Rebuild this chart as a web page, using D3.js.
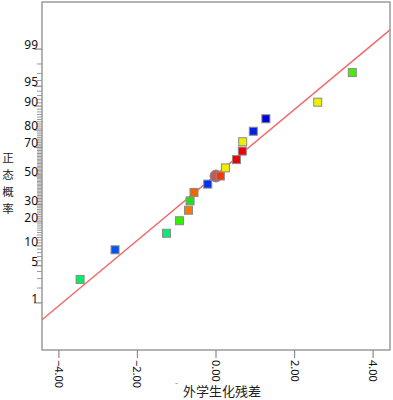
<!DOCTYPE html>
<html>
<head>
<meta charset="utf-8">
<script src="https://cdn.jsdelivr.net/npm/d3@7"></script>
<style>
	body { margin: 0; background: #fff; }
	svg text { font-family: "Noto Sans", "Open Sans", sans-serif; }
	svg text.cjk { font-family: "Noto Sans CJK SC", sans-serif; }
</style>
</head>
<body>
<div id="chart"></div>
<script>
// residuals (x) and normal probability in % (y)
const residuals = [-3.46, -2.57, -1.26, -0.93, -0.70, -0.66, -0.56, -0.21, 0.11, 0.24, 0.52, 0.67, 0.68, 0.95, 1.27, 2.59, 3.47];
const probs = [2.9, 8.8, 14.7, 20.6, 26.5, 32.4, 38.2, 44.1, 50.0, 55.9, 61.8, 67.6, 73.5, 79.4, 85.3, 91.2, 97.1];
const colors = ["#00ee66", "#0055ee", "#00ee77", "#33ee00", "#ff7700", "#22dd22", "#ee6600", "#0033ee", "#ff3300",
	"#eeee00", "#ee0000", "#ee0000", "#eeee00", "#0022dd", "#0000dd", "#eeee00", "#44ee00"];
// highlighted point
const markX = [0.0];
const markP = [50.0];
// fitted normal line
const lineX = [-4.43, 4.43];
const lineP = [0.42, 99.63];
const xTicks = [-4, -2, 0, 2, 4];
const yTicks = [1, 5, 10, 20, 30, 50, 70, 80, 90, 95, 99];
const yMinor = d3.range(1, 100).filter(d => yTicks.indexOf(d) == -1);
const xTitle = "外学生化残差";
const yTitle = ["正", "态", "概", "率"];

// inverse normal cdf (Acklam)
function probit(p) {
	const a = [-39.69683028665376, 220.9460984245205, -275.9285104469687, 138.3577518672690, -30.66479806614716, 2.506628277459239];
	const b = [-54.47609879822406, 161.5858368580409, -155.6989798598866, 66.80131188771972, -13.28068155288572];
	const c = [-0.007784894002430293, -0.3223964580411365, -2.400758277161838, -2.549732539343734, 4.374664141464968, 2.938163982698783];
	const d = [0.007784695709041462, 0.3224671290700398, 2.445134137142996, 3.754408661907416];
	const pl = 0.02425;
	let q, r;
	if (p < pl) {
		q = Math.sqrt(-2 * Math.log(p));
		return (((((c[0]*q+c[1])*q+c[2])*q+c[3])*q+c[4])*q+c[5]) / ((((d[0]*q+d[1])*q+d[2])*q+d[3])*q+1);
	}
	if (p > 1 - pl) {
		q = Math.sqrt(-2 * Math.log(1 - p));
		return -(((((c[0]*q+c[1])*q+c[2])*q+c[3])*q+c[4])*q+c[5]) / ((((d[0]*q+d[1])*q+d[2])*q+d[3])*q+1);
	}
	q = p - 0.5;
	r = q * q;
	return (((((a[0]*r+a[1])*r+a[2])*r+a[3])*r+a[4])*r+a[5])*q / (((((b[0]*r+b[1])*r+b[2])*r+b[3])*r+b[4])*r+1);
}

const width = 393, height = 400;
const m_left = 42, m_right = 390, m_top = 2, m_bottom = 350;

const svg = d3.select("#chart").append("svg")
	.attr("width", width)
	.attr("height", height);

const x = d3.scaleLinear().domain([-4.43, 4.43]).range([m_left, m_right]);
const z = d3.scaleLinear().domain([-3.19, 3.19]).range([m_bottom, m_top]);
const y = p => z(probit(p / 100));

// frame
svg.append("rect")
	.attr("x", m_left)
	.attr("y", m_top)
	.attr("width", m_right - m_left)
	.attr("height", m_bottom - m_top)
	.attr("fill", "none")
	.attr("stroke", "#9a9a9a")
	.attr("stroke-width", 1.5);

// y axis ticks
svg.append("g").selectAll("line")
	.data(yMinor)
	.enter()
	.append("line")
	.attr("x1", m_left - 5)
	.attr("x2", m_left)
	.attr("y1", d => y(d))
	.attr("y2", d => y(d))
	.attr("stroke", "#9a9a9a")
	.attr("stroke-width", 1);
svg.append("g").selectAll("line")
	.data(yTicks)
	.enter()
	.append("line")
	.attr("x1", m_left - 8)
	.attr("x2", m_left)
	.attr("y1", d => y(d))
	.attr("y2", d => y(d))
	.attr("stroke", "#8a8a8a")
	.attr("stroke-width", 1.2);
svg.append("g").selectAll("text")
	.data(yTicks)
	.enter()
	.append("text")
	.attr("x", m_left - 4)
	.attr("y", d => y(d))
	.attr("text-anchor", "end")
	.attr("font-size", 12)
	.attr("fill", "#111")
	.text(d => d);

// x axis ticks
svg.append("g").selectAll("line")
	.data(xTicks)
	.enter()
	.append("line")
	.attr("x1", d => x(d))
	.attr("x2", d => x(d))
	.attr("y1", m_bottom)
	.attr("y2", m_bottom + 8)
	.attr("stroke", "#8a8a8a")
	.attr("stroke-width", 1.2);
svg.append("g").selectAll("text")
	.data(xTicks)
	.enter()
	.append("text")
	.attr("transform", d => "translate(" + (x(d) - 4) + "," + (m_bottom + 10) + ") rotate(90)")
	.attr("font-size", 11)
	.attr("fill", "#111")
	.text(d => d3.format(".2f")(d));

// titles
svg.append("text")
	.attr("x", 175)
	.attr("y", 389)
	.attr("font-size", 8)
	.attr("fill", "#888")
	.text("ˉ");
svg.append("text")
	.classed("cjk", true)
	.attr("x", 222)
	.attr("y", 396)
	.attr("text-anchor", "middle")
	.attr("font-size", 13)
	.attr("fill", "#222")
	.text(xTitle);
svg.append("g").selectAll("text")
	.data(yTitle)
	.enter()
	.append("text")
	.classed("cjk", true)
	.attr("x", 8)
	.attr("y", (d, i) => 162 + i * 17)
	.attr("text-anchor", "middle")
	.attr("font-size", 11.5)
	.attr("fill", "#222")
	.text(d => d);

// fitted line
svg.append("line")
	.attr("x1", x(lineX[0]))
	.attr("y1", y(lineP[0]))
	.attr("x2", x(lineX[1]))
	.attr("y2", y(lineP[1]))
	.attr("stroke", "#f46a6a")
	.attr("stroke-width", 1.5);

// highlighted point
svg.append("g").selectAll("circle")
	.data(markX)
	.enter()
	.append("circle")
	.attr("cx", d => x(d))
	.attr("cy", (d, i) => y(markP[i]))
	.attr("r", 6)
	.attr("fill", "#c25a5a")
	.attr("stroke", "#8a8a8a")
	.attr("stroke-width", 1);

// residual points
svg.append("g").selectAll("rect")
	.data(residuals)
	.enter()
	.append("rect")
	.attr("x", d => x(d) - 4)
	.attr("y", (d, i) => y(probs[i]) - 4)
	.attr("width", 8)
	.attr("height", 8)
	.attr("fill", (d, i) => colors[i])
	.attr("stroke", "#8a8a8a")
	.attr("stroke-width", 1);
</script>
</body>
</html>
